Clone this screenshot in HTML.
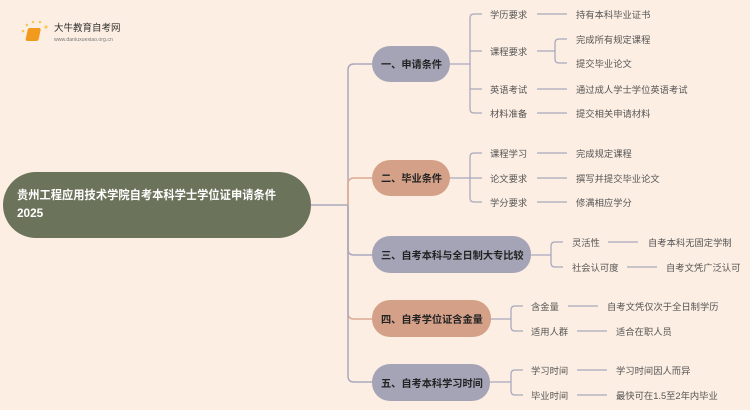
<!DOCTYPE html>
<html><head><meta charset="utf-8"><style>
html,body{margin:0;padding:0;background:#fdeee3;}
svg{display:block;font-family:"Liberation Sans","Noto Sans CJK SC",sans-serif;}
.l{fill:#555;font-size:9.3px;}
.n{fill:#222;font-size:10.2px;font-weight:bold;}
</style></head><body>
<svg width="750" height="410" viewBox="0 0 750 410" xmlns="http://www.w3.org/2000/svg">
<rect width="750" height="410" fill="#fdeee3"/>
<g>
<circle cx="23" cy="31" r="1.3" fill="#f7c85a"/><circle cx="27" cy="25" r="1.3" fill="#f7c85a"/><circle cx="33" cy="22" r="1.3" fill="#f7c85a"/><circle cx="40" cy="22" r="1.3" fill="#f7c85a"/><circle cx="46" cy="27" r="1.6" fill="#f7c85a"/>
<rect x="34" y="28" width="13" height="13" rx="2" fill="#f19a1e" transform="skewX(-12)"/>
<text x="54" y="31" font-size="9.5" fill="#333">大牛教育自考网</text>
<text x="54" y="41" font-size="5.2" fill="#777">www.daniuxuexiao.org.cn</text>
</g>
<g fill="none" stroke-width="1.5">
<path d="M311 205 H348" stroke="#a9a9bd"/>
<path d="M348 205 V70 Q348 64 354 64 H372" stroke="#a9a9bd"/>
<path d="M348 205 V184 Q348 178 354 178 H372" stroke="#dcaa92"/>
<path d="M348 205 V249 Q348 255 354 255 H372" stroke="#a9a9bd"/>
<path d="M348 205 V313 Q348 319 354 319 H372" stroke="#dcaa92"/>
<path d="M348 205 V376 Q348 382 354 382 H372" stroke="#a9a9bd"/>
</g>
<g fill="none" stroke="#a9a9bd" stroke-width="1.3">
<path d="M450 64 H470"/>
<path d="M482 14 H474 Q470 14 470 18 V109 Q470 113 474 113 H482"/>
<path d="M470 51 H482 M470 89 H482"/>
<path d="M537 14 H567 M537 89 H567 M537 113 H567"/>
<path d="M537 51 H555 M567 39 H559 Q555 39 555 43 V59 Q555 63 559 63 H567"/>
<path d="M450 178 H470"/>
<path d="M482 153 H474 Q470 153 470 157 V198 Q470 202 474 202 H482 M470 178 H482"/>
<path d="M537 153 H567 M537 178 H567 M537 202 H567"/>
<path d="M531 255 H551"/>
<path d="M563 242 H555 Q551 242 551 246 V263 Q551 267 555 267 H563"/>
<path d="M608 242 H638 M627 267 H657"/>
<path d="M491 319 H511"/>
<path d="M523 306 H515 Q511 306 511 310 V327 Q511 331 515 331 H523"/>
<path d="M568 306 H598 M577 331 H607"/>
<path d="M490 382 H511"/>
<path d="M523 370 H515 Q511 370 511 374 V391 Q511 395 515 395 H523"/>
<path d="M577 370 H607 M577 395 H607"/>
</g>
<rect x="3" y="172" width="308" height="66" rx="33" fill="#6b735b"/>
<text x="17" y="199" font-size="11.8" font-weight="bold" fill="#fff" textLength="259" lengthAdjust="spacingAndGlyphs">贵州工程应用技术学院自考本科学士学位证申请条件</text>
<text x="17" y="217" font-size="11.8" font-weight="bold" fill="#fff">2025</text>
<rect x="372" y="46" width="78" height="36" rx="18" fill="#a5a4b6"/>
<text x="381" y="68" class="n">一、申请条件</text>
<rect x="372" y="160" width="78" height="36" rx="18" fill="#d4a188"/>
<text x="381" y="182" class="n">二、毕业条件</text>
<rect x="372" y="236" width="159" height="37" rx="18" fill="#a5a4b6"/>
<text x="381" y="259" class="n">三、自考本科与全日制大专比较</text>
<rect x="372" y="300" width="119" height="37" rx="18" fill="#d4a188"/>
<text x="381" y="323" class="n">四、自考学位证含金量</text>
<rect x="372" y="364" width="118" height="37" rx="18" fill="#a5a4b6"/>
<text x="381" y="387" class="n">五、自考本科学习时间</text>
<g class="l">
<text x="490" y="18">学历要求</text><text x="576" y="18">持有本科毕业证书</text>
<text x="490" y="55">课程要求</text><text x="576" y="43">完成所有规定课程</text><text x="576" y="67">提交毕业论文</text>
<text x="490" y="93">英语考试</text><text x="576" y="93">通过成人学士学位英语考试</text>
<text x="490" y="117">材料准备</text><text x="576" y="117">提交相关申请材料</text>
<text x="490" y="157">课程学习</text><text x="576" y="157">完成规定课程</text>
<text x="490" y="182">论文要求</text><text x="576" y="182">撰写并提交毕业论文</text>
<text x="490" y="206">学分要求</text><text x="576" y="206">修满相应学分</text>
<text x="572" y="246">灵活性</text><text x="648" y="246">自考本科无固定学制</text>
<text x="572" y="271">社会认可度</text><text x="666" y="271">自考文凭广泛认可</text>
<text x="531" y="310">含金量</text><text x="607" y="310">自考文凭仅次于全日制学历</text>
<text x="531" y="335">适用人群</text><text x="616" y="335">适合在职人员</text>
<text x="531" y="374">学习时间</text><text x="616" y="374">学习时间因人而异</text>
<text x="531" y="399">毕业时间</text><text x="616" y="399">最快可在1.5至2年内毕业</text>
</g>
</svg>
</body></html>
